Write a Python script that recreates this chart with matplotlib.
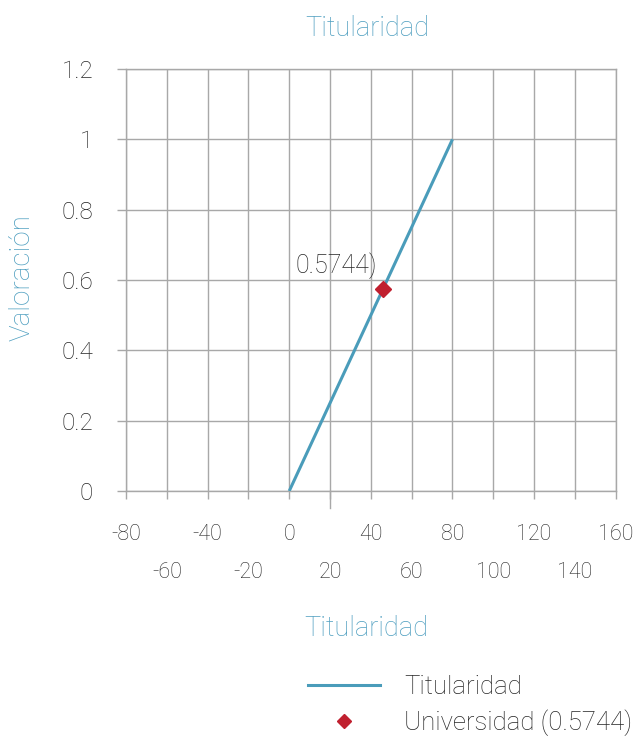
import matplotlib
matplotlib.use("Agg")
import matplotlib.pyplot as plt
import numpy as np

# ---- data ----
line_x = [0, 80]
line_y = [0, 1]
point_x = [45.95]
point_y = [0.5744]
point_label = "0.5744)"
major_xticks = [-80, -40, 0, 40, 80, 120, 160]
minor_xticks = [-60, -20, 20, 60, 100, 140]
yticks = [0, 0.2, 0.4, 0.6, 0.8, 1.0, 1.2]
ytick_labels = ["0", "0.2", "0.4", "0.6", "0.8", "1", "1.2"]
title = "Titularidad"
xlabel = "Titularidad"
ylabel = "Valoración"
legend_labels = ["Titularidad", "Universidad (0.5744)"]

TEAL = "#4a9cba"
TEXT_TEAL = "#4f9fc0"
RED = "#c0202f"
GRID = "#a8a8a8"
TXT = "#262626"

plt.rcParams['font.family'] = ['Roboto', 'DejaVu Sans']
plt.rcParams['font.weight'] = 'light'

W, H = 636, 736
fig = plt.figure(figsize=(W/100, H/100), dpi=100)
left, right, top, bottom = 126, 615.7, 69, 491
ax = fig.add_axes([left/W, 1-bottom/H, (right-left)/W, (bottom-top)/H])

ax.set_xlim(-80, 160)
ax.set_ylim(0, 1.2)

ax.plot(line_x, line_y, color=TEAL, lw=2.2, solid_capstyle='butt', zorder=3)
ax.plot(point_x, point_y, linestyle='none', marker='D', markersize=8.5,
        color=RED, zorder=4)
ax.annotate(point_label, (point_x[0], point_y[0]), xytext=(-63, 11.5),
            textcoords='offset points', ha='left', va='baseline',
            fontsize=18, color=TXT)

ax.set_xticks(major_xticks)
ax.set_xticks(minor_xticks, minor=True)
ax.set_xticklabels([str(v) for v in major_xticks])
ax.set_xticklabels([str(v) for v in minor_xticks], minor=True)
ax.set_yticks(yticks)
ax.set_yticklabels(ytick_labels)

ax.tick_params(axis='x', which='both', direction='out', length=6, width=1,
               color=GRID, labelsize=15.5, labelcolor=TXT)
ax.tick_params(axis='x', which='major', pad=18)
ax.tick_params(axis='x', which='minor', pad=45)
ax.tick_params(axis='y', direction='out', length=6.6, width=1, color=GRID,
               labelsize=17.5, labelcolor=TXT, pad=17)

ax.grid(True, which='both', color=GRID, lw=1.0)
ax.set_axisbelow(True)
for s in ax.spines.values():
    s.set_color(GRID)
    s.set_linewidth(1.0)

# longer tick mark at x = 20
ax.axvline(20, ymin=-17/(bottom-top), ymax=0, color=GRID, lw=1.0, clip_on=False)

fig.text(367/W, 1-28/H, title, ha='center', va='center', fontsize=19.5, color=TEXT_TEAL)
fig.text(366/W, 1-628/H, xlabel, ha='center', va='center', fontsize=19.5, color=TEXT_TEAL)
fig.text(22/W, 1-278/H, ylabel, ha='center', va='center', rotation=90,
         fontsize=20, color=TEXT_TEAL)

from matplotlib.lines import Line2D
handles = [Line2D([], [], color=TEAL, lw=2.2),
           Line2D([], [], linestyle='none', marker='D', markersize=7, color=RED)]
leg = fig.legend(handles, legend_labels, loc='upper left',
                 bbox_to_anchor=(308/W, 1-675/H), frameon=False, fontsize=18.5,
                 handlelength=2.8, handletextpad=0.95, labelspacing=0.4,
                 borderpad=0, borderaxespad=0, labelcolor=TXT)

fig.savefig("out.png", dpi=100)
